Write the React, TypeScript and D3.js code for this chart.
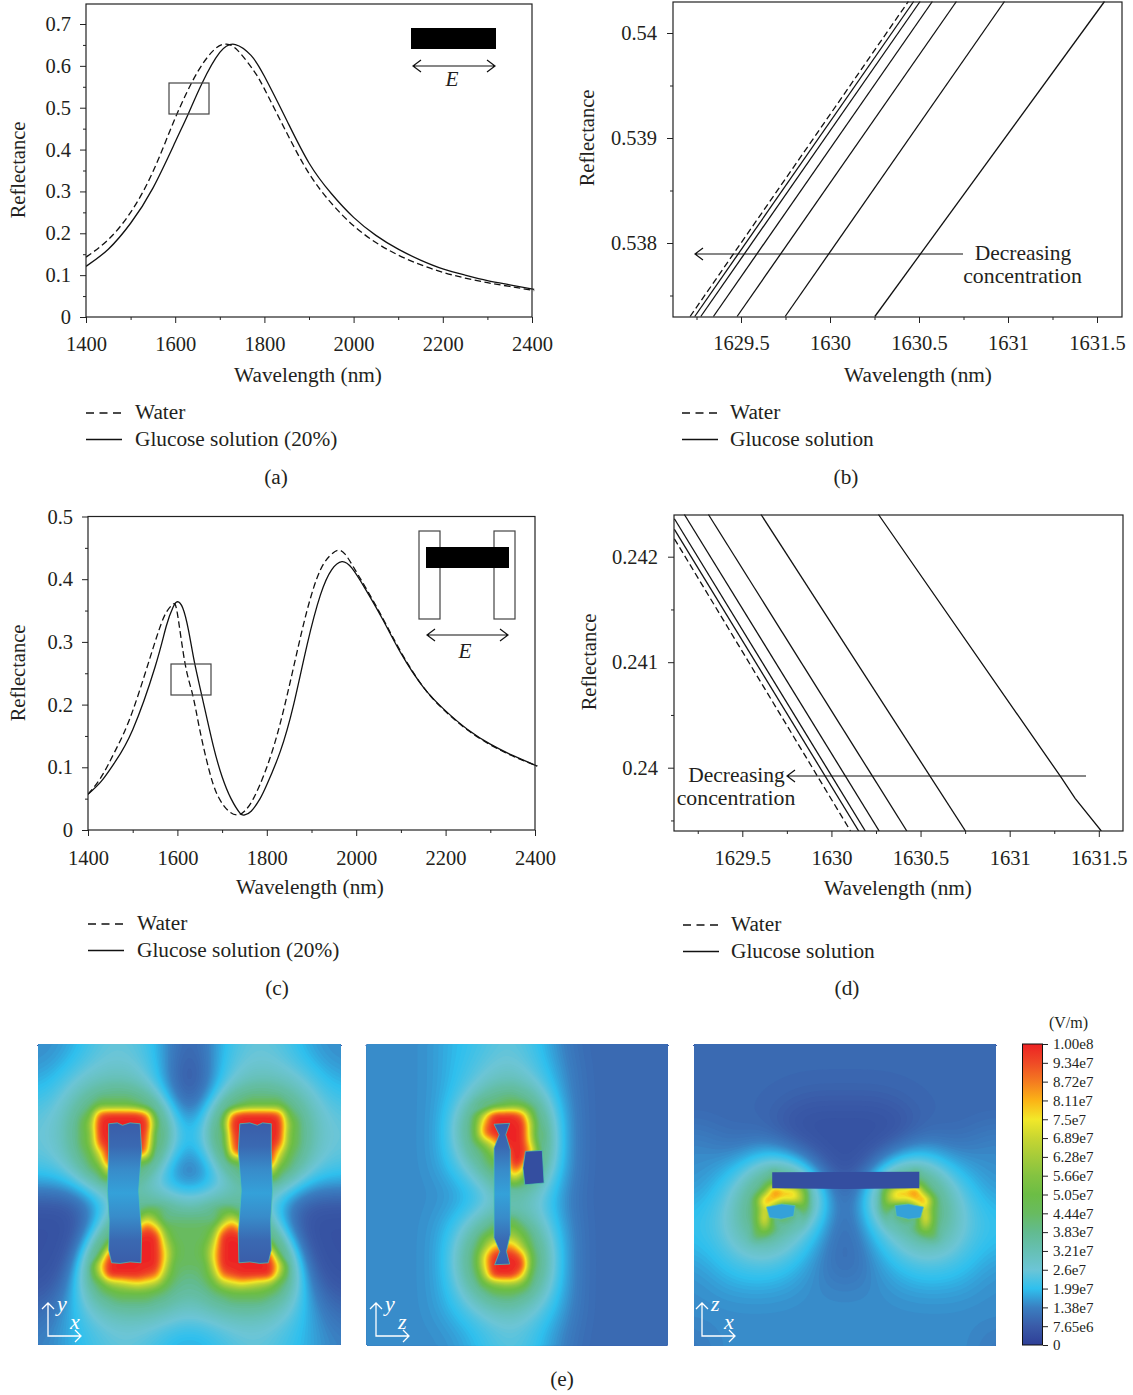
import React, { useEffect, useRef } from "react";
import * as d3 from "d3";

const FONT = "'Liberation Serif', serif";

// (a) bar only
const aWaterX = [1400, 1450, 1500, 1550, 1600, 1650, 1690, 1715, 1740, 1775, 1800, 1850, 1900, 1950, 2000, 2050, 2100, 2150, 2200, 2250, 2300, 2350, 2405];
const aWaterY = [0.143, 0.185, 0.25, 0.347, 0.475, 0.585, 0.641, 0.652, 0.637, 0.59, 0.545, 0.44, 0.343, 0.272, 0.218, 0.178, 0.148, 0.125, 0.107, 0.093, 0.082, 0.073, 0.063];
const aGlucoseX = [1400, 1450, 1500, 1550, 1600, 1630, 1660, 1700, 1735, 1770, 1800, 1850, 1900, 1950, 2000, 2050, 2100, 2150, 2200, 2250, 2300, 2350, 2405];
const aGlucoseY = [0.121, 0.162, 0.224, 0.308, 0.418, 0.487, 0.558, 0.632, 0.651, 0.625, 0.575, 0.47, 0.368, 0.295, 0.238, 0.195, 0.162, 0.136, 0.115, 0.1, 0.087, 0.077, 0.066];

// (c) bar plus two rods
const cWaterX = [1400, 1430, 1460, 1500, 1550, 1575, 1590, 1600, 1617, 1634, 1650, 1670, 1690, 1715, 1735, 1750, 1770, 1800, 1830, 1860, 1890, 1920, 1945, 1958, 1975, 2000, 2020, 2060, 2100, 2150, 2200, 2250, 2300, 2350, 2405];
const cWaterY = [0.057, 0.085, 0.125, 0.19, 0.3, 0.347, 0.36, 0.345, 0.266, 0.216, 0.16, 0.098, 0.055, 0.03, 0.024, 0.03, 0.05, 0.1, 0.17, 0.26, 0.35, 0.415, 0.44, 0.446, 0.44, 0.412, 0.388, 0.337, 0.284, 0.228, 0.189, 0.159, 0.136, 0.118, 0.102];
const cGlucoseX = [1400, 1430, 1460, 1500, 1550, 1575, 1590, 1600, 1612, 1625, 1638, 1656, 1680, 1700, 1720, 1740, 1750, 1765, 1785, 1800, 1830, 1860, 1890, 1920, 1945, 1968, 1990, 2020, 2060, 2100, 2150, 2200, 2250, 2300, 2350, 2405];
const cGlucoseY = [0.057, 0.078, 0.108, 0.16, 0.26, 0.325, 0.355, 0.364, 0.354, 0.318, 0.268, 0.21, 0.135, 0.085, 0.05, 0.027, 0.024, 0.03, 0.05, 0.072, 0.125, 0.2, 0.295, 0.375, 0.415, 0.428, 0.418, 0.385, 0.335, 0.282, 0.228, 0.19, 0.16, 0.137, 0.119, 0.102];

// (b) zoomed, wavelength where each line crosses the reflectance levels
const bLevels = [0.5373, 0.5403];
const bWater = [1629.214, 1630.44];
const bGlucose = [
  [1629.24, 1630.47],
  [1629.274, 1630.506],
  [1629.345, 1630.575],
  [1629.478, 1630.71],
  [1629.748, 1630.98],
  [1630.252, 1631.542],
];

// (d) zoomed
const dWater = [[1629.119, 0.24217], [1630.107, 0.2394]];
const dGlucose = [
  [[1629.119, 0.24226], [1630.153, 0.2394]],
  [[1629.119, 0.24236], [1630.19, 0.2394]],
  [[1629.175, 0.2424], [1630.268, 0.2394]],
  [[1629.31, 0.2424], [1630.423, 0.2394]],
  [[1629.605, 0.2424], [1630.752, 0.2394]],
  [[1630.264, 0.2424], [1631.286, 0.239915], [1631.367, 0.23971], [1631.514, 0.2394]],
];

// colour bar, in 1e7 V/m
const barValues = [0, 0.765, 1.38, 1.99, 2.6, 3.21, 3.83, 4.44, 5.05, 5.66, 6.28, 6.89, 7.5, 8.11, 8.72, 9.34, 10];
const barLabels = ["0", "7.65e6", "1.38e7", "1.99e7", "2.6e7", "3.21e7", "3.83e7", "4.44e7", "5.05e7", "5.66e7", "6.28e7", "6.89e7", "7.5e7", "8.11e7", "8.72e7", "9.34e7", "1.00e8"];
const barColors = ["#2e3f97", "#3a5ba8", "#3a7fc1", "#2fc0ee", "#6cc5d6", "#66c0b4", "#62bb90", "#68bb60", "#6cbd45", "#84c341", "#a5cb3a", "#c8d631", "#f2e829", "#fbb316", "#f47b20", "#ef4a26", "#ed2224"];

// field maps read by eye, a = 0 and each letter adds 0.5e7 V/m
// xy and xz planes are mirror symmetric so only the left half is kept
const fieldXY = [
  "ddddeeff fffeedcc", "dddeefff ffffeecb", "ddeefffg ggfffdbb", "deeffggg gggffdbb",
  "eeffgggg gggffdbb", "eefgggii iihgfecb", "effggikk kkjhfedb", "ffggiktu uuusifdc",
  "ffggjmuu uuuukfed", "ffggjluu uuutiffe", "ffggjltu uuusifee", "fffgikpu uuurgfed",
  "fffghjmu ppkkgedc", "eeffgijp jjigedcb", "eeeeffij hhgfedbb", "ddddeefg gggfffee",
  "bbbbbcde gggggggf", "bbbbbcdf ghhjjihh", "bbbbbcef hjkolhii", "bbbbbdeg ikptqkjj",
  "bbbbbdfi jpuuumjj", "bbbbbdgn tuuuuokj", "bbbbcekt uuuuupkj", "bbbbdipu uuuuuojj",
  "bbbcdinu uuutsmji", "bbccfhjm noponkih", "bccdfgij kkkkjihg", "ccddfggh iiiihhgg",
  "ccdeefgg gggggggf", "cddeeffg gggggfff", "cddeeeff fffffeee", "dddeeeef fffeeedd",
];
const fieldYZ = [
  "dddddddd eeeeefff feeddccc cccccccc", "dddddddd eeeeffff ffeeddcc cccccccc",
  "dddddddd eeefffgg ffeeddcc cccccccc", "dddddddd eeeffggg gffeddcc cccccccc",
  "dddddddd eeefgggh gffeddcc cccccccc", "dddddddd eeffghii hgfeddcc cccccccc",
  "dddddddd eeffgijk kihfedcc cccccccc", "dddddddd efgjouuu slgfedcc cccccccc",
  "dddddddd efgkruuu unhfedcc cccccccc", "dddddddd efgksuuu ungfedcc cccccccc",
  "dddddddd efgjmpuu uohfedcc cccccccc", "dddddddd effgjmpu urifedcc cccccccc",
  "dddddddd effgikmu ujgfedcc cccccccc", "dddddddd eefghijs phgfedcc cccccccc",
  "dddddddd deefghin khgfedcc cccccccc", "dddddddd dddddefh hgfedccc cccccccc",
  "dddddddd dddeeeff fffeddcc cccccccc", "dddddddd deeeffgg gffeddcc cccccccc",
  "dddddddd eeefghij hgfeddcc cccccccc", "dddddddd eefghjkl jhgfedcc cccccccc",
  "dddddddd effhkmnn ligfedcc cccccccc", "dddddddd efgimqrr njgfedcc cccccccc",
  "dddddddd efgjpuuu skhfedcc cccccccc", "dddddddd efgjpuuu ukhfedcc cccccccc",
  "dddddddd efginuuu qjgfedcc cccccccc", "dddddddd effhklmm ligfedcc cccccccc",
  "dddddddd eefghjjj ihffedcc cccccccc", "dddddddd eeffgghh ggfeedcc cccccccc",
  "dddddddd eeeffggg gffeddcc cccccccc", "dddddddd deeefffg ffeeddcc cccccccc",
  "dddddddd ddeeefff feeeddcc cccccccc", "dddddddd dddeeeff feeddccc cccccccc",
];
const fieldXZ = [
  "cccccccc cccccccc", "cccccccc cccccccc", "cccccccc cccccccc", "cccccccc cccccccc",
  "cccccccc cccccccc", "cccccccc cccccccc", "cccccccc cccbbbbb", "cccccccc cbbbbbbb",
  "cccccccc cbbbbbbb", "ddcccccc cbbbbbbb", "dddccccd cbbbbbbb", "ddddddee eedcbbbb",
  "dddddeef fffedbbb", "dddeefgg jgfedcbb", "ddeeffgi iiihfcbb", "deeffghk tqqmgedc",
  "deefggks qpqngedc", "eeffghjp lffkhecc", "eeffghjr heeigdcc", "eeffggjn jhhhfecc",
  "eeffggji hggfedcc", "eeeffggg gffeedcc", "deeeffff ffeeddcc", "deeeeeff eeeeddcc",
  "ddeeeeee eeedddcc", "dddeeeee eedddddd", "dddddddd dddddddd", "dddddddd dddddddd",
  "dddddddd dddddddd", "dddddddd dddddddd", "dddddddd dddddddd", "cddddddd dddddddd",
];

// conductor outlines as fractions of the map
const rodXY = [[0.233, 0.265], [0.262, 0.262], [0.279, 0.27], [0.304, 0.262], [0.337, 0.265], [0.342, 0.355], [0.332, 0.487], [0.342, 0.63], [0.34, 0.727], [0.304, 0.724], [0.271, 0.729], [0.243, 0.727], [0.233, 0.685], [0.235, 0.586], [0.229, 0.487], [0.233, 0.355]];
const rodYZ = [[0.423, 0.266], [0.475, 0.263], [0.462, 0.301], [0.477, 0.351], [0.477, 0.632], [0.464, 0.688], [0.475, 0.73], [0.425, 0.732], [0.442, 0.688], [0.423, 0.643], [0.423, 0.345], [0.44, 0.301]];
const barYZ = [[0.527, 0.356], [0.583, 0.353], [0.589, 0.461], [0.525, 0.467], [0.519, 0.411]];
const barXZ = [[0.259, 0.425], [0.746, 0.423], [0.746, 0.478], [0.5, 0.48], [0.259, 0.478]];
const holeXZ = [[0.24, 0.54], [0.29, 0.53], [0.335, 0.535], [0.33, 0.57], [0.29, 0.58], [0.25, 0.575]];
const rodProfile = [0.8, 1.0, 1.5, 1.7, 1.5, 1.0, 0.8];

const fieldColor = d3.scaleLinear<string>().domain(barValues).range(barColors).clamp(true);

const decodeRows = (rows: string[], mirror: boolean) =>
  rows.map((r) => {
    const cells = Array.from(r.replace(/ /g, "")).map((c) => (c.charCodeAt(0) - 97) * 0.5);
    return mirror ? cells.concat(cells.slice().reverse()) : cells;
  });

// upsample, then soften the cool background much more than the hot lobes
const contourField = (rows: number[][]) => {
  const k = 4;
  const n = rows[0].length;
  const m = rows.length;
  const w = n * k;
  const h = m * k;
  const data = new Float64Array(w * h);
  for (let j = 0; j < h; j++) {
    const gy = Math.min(m - 1.001, Math.max(0, (j + 0.5) / k - 0.5));
    const j0 = Math.floor(gy);
    const ty = gy - j0;
    for (let i = 0; i < w; i++) {
      const gx = Math.min(n - 1.001, Math.max(0, (i + 0.5) / k - 0.5));
      const i0 = Math.floor(gx);
      const tx = gx - i0;
      data[j * w + i] =
        rows[j0][i0] * (1 - tx) * (1 - ty) +
        rows[j0][i0 + 1] * tx * (1 - ty) +
        rows[j0 + 1][i0] * (1 - tx) * ty +
        rows[j0 + 1][i0 + 1] * tx * ty;
    }
  }
  const wide = Float64Array.from(data);
  d3.blur2({ data: wide, width: w, height: h }, 6);
  d3.blur2({ data, width: w, height: h }, 1);
  for (let q = 0; q < data.length; q++) {
    const t = Math.min(1, Math.max(0, (data[q] - 2.5) / 2));
    const a = t * t * (3 - 2 * t);
    data[q] = a * data[q] + (1 - a) * wide[q];
  }
  return { data, w, h };
};

const openHead = (x: number, y: number, dir: number) =>
  `M${x + dir * 8},${y - 6}L${x},${y}L${x + dir * 8},${y + 6}`;

const addText = (g: any, x: number, y: number, s: string, anchor = "start", size = 21.3) =>
  g.append("text").attr("x", x).attr("y", y).attr("text-anchor", anchor).attr("font-size", size).attr("fill", "#231f20").text(s);

const drawPanel = (svg: any, p: any) => {
  const g = svg.append("g");
  const { x, y, left, right, top, bottom } = p;

  const clipId = "clip" + p.id;
  svg.select("defs").append("clipPath").attr("id", clipId).append("rect")
    .attr("x", left).attr("y", top - 1).attr("width", right - left + (p.overshoot || 0)).attr("height", bottom - top + 1);

  // ticks
  const xa = g.append("g").attr("transform", `translate(0,${bottom})`)
    .call(d3.axisBottom(x).tickValues(p.xTicks).tickFormat((d: any) => String(d)).tickSize(6).tickPadding(p.xPad));
  const xm = g.append("g").attr("transform", `translate(0,${bottom})`)
    .call(d3.axisBottom(x).tickValues(p.xMinor).tickFormat(() => "").tickSize(3));
  const ya = g.append("g").attr("transform", `translate(${left},0)`)
    .call(d3.axisLeft(y).tickValues(p.yTicks).tickFormat((d: any) => String(d)).tickSize(6).tickPadding(p.yPad));
  const ym = g.append("g").attr("transform", `translate(${left},0)`)
    .call(d3.axisLeft(y).tickValues(p.yMinor).tickFormat(() => "").tickSize(3));
  [xa, xm, ya, ym].forEach((a: any) => {
    a.attr("font-family", null).attr("font-size", null);
    a.select(".domain").remove();
    a.selectAll("line").attr("stroke", "#222").attr("stroke-width", 1);
    a.selectAll("text").attr("font-size", 20.5).attr("fill", "#231f20");
  });

  const lines = g.append("g").attr("clip-path", `url(#${clipId})`);
  const lineGen = d3.line<number[]>().x((d) => x(d[0])).y((d) => y(d[1]));
  const drawLine = (pts: number[][], dashed: boolean, curve: any) =>
    lines.append("path").attr("d", lineGen.curve(curve)(pts))
      .attr("fill", "none").attr("stroke", "#111").attr("stroke-width", 1.3)
      .attr("stroke-dasharray", dashed ? "6.5,3.5" : null);
  p.water.forEach((pts: number[][]) => drawLine(pts, true, p.curve));
  p.glucose.forEach((pts: number[][]) => drawLine(pts, false, p.curve));

  // frame
  g.append("rect").attr("x", left).attr("y", top).attr("width", right - left).attr("height", bottom - top)
    .attr("fill", "none").attr("stroke", "#222").attr("stroke-width", 1.2);

  // labels
  addText(g, p.xLabelX, p.xLabelY, "Wavelength (nm)", "middle");
  g.append("text").attr("transform", `translate(${p.yLabelX},${p.yLabelY}) rotate(-90)`)
    .attr("text-anchor", "middle").attr("font-size", 20.5).attr("fill", "#231f20").text("Reflectance");

  // legend
  const lx = p.legendX;
  g.append("line").attr("x1", lx).attr("x2", lx + 36).attr("y1", p.legendY).attr("y2", p.legendY)
    .attr("stroke", "#111").attr("stroke-width", 1.3).attr("stroke-dasharray", "8,5.5");
  addText(g, lx + p.legendGap, p.legendY + 6, "Water");
  g.append("line").attr("x1", lx).attr("x2", lx + 36).attr("y1", p.legendY + 26.5).attr("y2", p.legendY + 26.5)
    .attr("stroke", "#111").attr("stroke-width", 1.3);
  addText(g, lx + p.legendGap, p.legendY + 32.5, p.legendName);
  addText(g, p.tagX, p.tagY, p.tag, "middle");
  return g;
};

const drawBoxAndArrow = (g: any, box: number[], arrow: number[]) => {
  g.append("rect").attr("x", box[0]).attr("y", box[1]).attr("width", box[2] - box[0]).attr("height", box[3] - box[1])
    .attr("fill", "none").attr("stroke", "#444").attr("stroke-width", 1.2);
  const [x1, x2, ay] = arrow;
  g.append("path").attr("d", `M${x1},${ay}L${x2},${ay}${openHead(x1, ay, 1)}${openHead(x2, ay, -1)}`)
    .attr("fill", "none").attr("stroke", "#111").attr("stroke-width", 1.2);
};

const drawMap = (svg: any, id: string, rows: number[][], box: number[]) => {
  const [x0, y0, x1, y1] = box;
  const { data, w, h } = contourField(rows);
  const sx = d3.scaleLinear().domain([0, w]).range([x0, x1]);
  const sy = d3.scaleLinear().domain([0, h]).range([y0, y1]);
  const thresholds = [-1].concat(d3.range(0.03, 3.5, 0.06), d3.range(3.53, 10, 0.15));
  const bands = d3.contours().size([w, h]).thresholds(thresholds)(data as any);
  const project = d3.geoTransform({
    point(this: any, px: number, py: number) {
      this.stream.point(sx(px), sy(py));
    },
  });
  const path = d3.geoPath(project);
  const g = svg.append("g").attr("id", id);
  g.selectAll("path").data(bands).join("path")
    .attr("d", (d: any) => path(d))
    .attr("fill", (d: any) => fieldColor(Math.max(d.value, 0) + 0.03));
  return { g, fx: d3.scaleLinear().domain([0, 1]).range([x0, x1]), fy: d3.scaleLinear().domain([0, 1]).range([y0, y1]) };
};

const drawConductor = (m: any, pts: number[][], fill: string, edge: string | null) => {
  const l = d3.line<number[]>().x((d) => m.fx(d[0])).y((d) => m.fy(d[1])).curve(d3.curveLinearClosed);
  m.g.append("path").attr("d", l(pts)).attr("fill", fill)
    .attr("stroke", edge || "none").attr("stroke-width", 1).attr("stroke-opacity", 0.7);
};

const drawTriad = (svg: any, ox: number, oy: number, lx: number, ly: number) => {
  const g = svg.append("g");
  g.append("path")
    .attr("d", `M${ox},${oy - 33}L${ox},${oy}L${ox + 33},${oy}M${ox - 6},${oy - 27}L${ox},${oy - 33}L${ox + 6},${oy - 27}M${ox + 27},${oy - 6}L${ox + 33},${oy}L${ox + 27},${oy + 6}`)
    .attr("fill", "none").attr("stroke", "#fff").attr("stroke-width", 1.3);
  g.append("text").attr("x", ox + 9).attr("y", oy - 25).attr("font-size", 22).attr("font-style", "italic").attr("fill", "#fff").text(ly);
  g.append("text").attr("x", ox + 22).attr("y", oy - 7).attr("font-size", 22).attr("font-style", "italic").attr("fill", "#fff").text(lx);
};

export default function App() {
  const ref = useRef<SVGSVGElement>(null);

  useEffect(() => {
    const svg = d3.select(ref.current);
    svg.selectAll("*").remove();
    const defs = svg.append("defs");

    const bLine = (c: number[]) => c.map((w, i) => [w, bLevels[i]]);
    const zip = (xs: number[], ys: number[]) => xs.map((v, i) => [v, ys[i]]);

    // (a)
    const ga = drawPanel(svg, {
      id: "a",
      x: d3.scaleLinear().domain([1400, 2400]).range([86, 532]),
      y: d3.scaleLinear().domain([0, 0.7]).range([317, 24]),
      left: 86, right: 532, top: 4, bottom: 317, overshoot: 3,
      xTicks: d3.range(1400, 2401, 200), xMinor: d3.range(1500, 2400, 200),
      yTicks: [0, 0.1, 0.2, 0.3, 0.4, 0.5, 0.6, 0.7], yMinor: [0.05, 0.15, 0.25, 0.35, 0.45, 0.55, 0.65], yPad: 9, xPad: 13,
      water: [zip(aWaterX, aWaterY)], glucose: [zip(aGlucoseX, aGlucoseY)], curve: d3.curveNatural,
      xLabelX: 308, xLabelY: 382, yLabelX: 25, yLabelY: 170,
      legendX: 86, legendY: 413, legendGap: 49, legendName: "Glucose solution (20%)",
      tag: "(a)", tagX: 276, tagY: 484,
    });
    drawBoxAndArrow(ga, [169, 83, 209, 114], [413, 495, 66]);
    ga.append("rect").attr("x", 411).attr("y", 28).attr("width", 85).attr("height", 21).attr("fill", "#000");
    addText(ga, 452, 86, "E", "middle").attr("font-style", "italic");

    // (b)
    const gb = drawPanel(svg, {
      id: "b",
      x: d3.scaleLinear().domain([1629.5, 1631.5]).range([741, 1097]),
      y: d3.scaleLinear().domain([0.538, 0.54]).range([243, 33]),
      left: 673, right: 1122, top: 2, bottom: 317,
      xTicks: [1629.5, 1630, 1630.5, 1631, 1631.5], xMinor: [1629.25, 1629.75, 1630.25, 1630.75, 1631.25],
      yTicks: [0.538, 0.539, 0.54], yMinor: [0.5375, 0.5385, 0.5395], yPad: 10, xPad: 12,
      water: [bLine(bWater)], glucose: bGlucose.map(bLine), curve: d3.curveLinear,
      xLabelX: 918, xLabelY: 382, yLabelX: 594, yLabelY: 138,
      legendX: 682, legendY: 413, legendGap: 48, legendName: "Glucose solution",
      tag: "(b)", tagX: 846, tagY: 484,
    });
    gb.append("path").attr("d", `M963,254L695,254${openHead(695, 254, 1)}`).attr("fill", "none").attr("stroke", "#111").attr("stroke-width", 1.2);
    addText(gb, 1023, 260, "Decreasing", "middle", 21.5);
    addText(gb, 1022.5, 283, "concentration", "middle", 21.8);

    // (c)
    const gc = drawPanel(svg, {
      id: "c",
      x: d3.scaleLinear().domain([1400, 2400]).range([88, 535]),
      y: d3.scaleLinear().domain([0, 0.5]).range([830, 516.5]),
      left: 88, right: 535, top: 516.5, bottom: 830, overshoot: 3,
      xTicks: d3.range(1400, 2401, 200), xMinor: d3.range(1500, 2400, 200),
      yTicks: [0, 0.1, 0.2, 0.3, 0.4, 0.5], yMinor: [0.05, 0.15, 0.25, 0.35, 0.45], yPad: 9, xPad: 14,
      water: [zip(cWaterX, cWaterY)], glucose: [zip(cGlucoseX, cGlucoseY)], curve: d3.curveNatural,
      xLabelX: 310, xLabelY: 894, yLabelX: 25, yLabelY: 673,
      legendX: 88, legendY: 924, legendGap: 49, legendName: "Glucose solution (20%)",
      tag: "(c)", tagX: 277, tagY: 995,
    });
    drawBoxAndArrow(gc, [171, 664, 211, 695], [427, 508, 635]);
    [419, 494].forEach((rx) => {
      gc.append("rect").attr("x", rx).attr("y", 531).attr("width", 21).attr("height", 88)
        .attr("fill", "#fff").attr("stroke", "#444").attr("stroke-width", 1.2);
    });
    gc.append("rect").attr("x", 426).attr("y", 547).attr("width", 83).attr("height", 21).attr("fill", "#000");
    addText(gc, 465, 658, "E", "middle").attr("font-style", "italic");

    // (d)
    const gd = drawPanel(svg, {
      id: "d",
      x: d3.scaleLinear().domain([1629.5, 1631.5]).range([742.3, 1098.8]),
      y: d3.scaleLinear().domain([0.24, 0.242]).range([767.7, 556.7]),
      left: 674, right: 1123, top: 515, bottom: 831,
      xTicks: [1629.5, 1630, 1630.5, 1631, 1631.5], xMinor: [1629.25, 1629.75, 1630.25, 1630.75, 1631.25],
      yTicks: [0.24, 0.241, 0.242], yMinor: [0.2395, 0.2405, 0.2415], yPad: 10, xPad: 13,
      water: [dWater], glucose: dGlucose, curve: d3.curveLinear,
      xLabelX: 898, xLabelY: 895, yLabelX: 596, yLabelY: 662,
      legendX: 683, legendY: 925, legendGap: 48, legendName: "Glucose solution",
      tag: "(d)", tagX: 847, tagY: 995,
    });
    gd.append("path").attr("d", `M1086,776L787,776${openHead(787, 776, 1)}`).attr("fill", "none").attr("stroke", "#111").attr("stroke-width", 1.2);
    addText(gd, 736.5, 782, "Decreasing", "middle", 21.5);
    addText(gd, 736, 805, "concentration", "middle", 21.8);

    // (e) field maps
    const rodGrad = defs.append("linearGradient").attr("id", "rodGrad").attr("x1", 0).attr("x2", 0).attr("y1", 0).attr("y2", 1);
    rodProfile.forEach((v, i) => {
      rodGrad.append("stop").attr("offset", i / (rodProfile.length - 1)).attr("stop-color", fieldColor(v));
    });

    const m1 = drawMap(svg, "mapXY", decodeRows(fieldXY, true), [38, 1044, 341, 1345]);
    drawConductor(m1, rodXY, "url(#rodGrad)", "#4fc4b0");
    drawConductor(m1, rodXY.map((d) => [1.003 - d[0], d[1]]), "url(#rodGrad)", "#4fc4b0");
    const m2 = drawMap(svg, "mapYZ", decodeRows(fieldYZ, false), [366.5, 1044, 668, 1345.5]);
    drawConductor(m2, rodYZ, "url(#rodGrad)", "#4fc4b0");
    drawConductor(m2, barYZ, fieldColor(0.4), "#4fc4b0");
    const m3 = drawMap(svg, "mapXZ", decodeRows(fieldXZ, true), [694, 1044, 996, 1346]);
    drawConductor(m3, barXZ, fieldColor(0.4), null);
    drawConductor(m3, holeXZ, fieldColor(1.7), "#63c3a0");
    drawConductor(m3, holeXZ.map((d) => [1 - d[0], d[1]]), fieldColor(1.7), "#63c3a0");

    drawTriad(svg, 48, 1336, "x", "y");
    drawTriad(svg, 376, 1336, "z", "y");
    drawTriad(svg, 702, 1336, "x", "z");
    addText(svg, 562, 1386, "(e)", "middle");

    // colour bar
    const barScale = d3.scaleLinear().domain([0, 10]).range([1345, 1044]);
    const barPos = d3.scalePoint<string>().domain(barLabels).range([1345, 1044]);
    const grad = defs.append("linearGradient").attr("id", "barGrad").attr("x1", 0).attr("x2", 0).attr("y1", 1).attr("y2", 0);
    barValues.forEach((v, i) => {
      grad.append("stop").attr("offset", i / (barValues.length - 1)).attr("stop-color", barColors[i]);
    });
    svg.append("rect").attr("x", 1022.5).attr("y", barScale(10)).attr("width", 20).attr("height", barScale(0) - barScale(10))
      .attr("fill", "url(#barGrad)").attr("stroke", "#111").attr("stroke-width", 1);
    const barAxis = svg.append("g").attr("transform", "translate(1043,0)")
      .call(d3.axisRight(barPos).tickSize(5).tickPadding(5) as any);
    barAxis.attr("font-family", null).attr("font-size", null);
    barAxis.select(".domain").remove();
    barAxis.selectAll("line").attr("stroke", "#222");
    barAxis.selectAll("text").attr("font-size", 15).attr("fill", "#231f20");
    addText(svg, 1068.5, 1028, "(V/m)", "middle", 16);
  }, []);

  return (
    <svg
      ref={ref}
      width={1133}
      height={1395}
      style={{ position: "absolute", left: 0, top: 0, background: "#fff", fontFamily: FONT }}
    />
  );
}
